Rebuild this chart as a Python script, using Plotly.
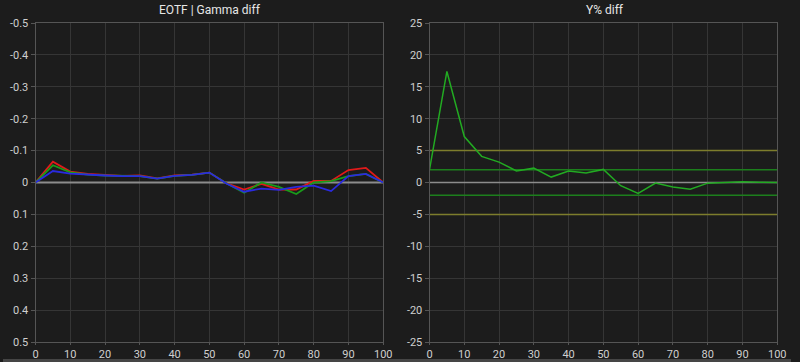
import plotly.graph_objects as go

x_vals = [0, 5, 10, 15, 20, 25, 30, 35, 40, 45, 50, 55, 60, 65, 70, 75, 80, 85, 90, 95, 100]

gamma_red = [0, -0.065, -0.034, -0.027, -0.024, -0.021, -0.022, -0.013, -0.022, -0.025, -0.031, 0.003, 0.022, 0.004, 0.022, 0.022, -0.005, -0.005, -0.039, -0.046, 0]
gamma_green = [0, -0.054, -0.032, -0.025, -0.022, -0.020, -0.020, -0.012, -0.021, -0.024, -0.031, 0.003, 0.032, 0.0, 0.014, 0.036, 0.0, -0.004, -0.020, -0.027, 0]
gamma_blue = [0, -0.036, -0.028, -0.024, -0.022, -0.020, -0.020, -0.012, -0.021, -0.024, -0.031, 0.004, 0.029, 0.019, 0.023, 0.014, 0.010, 0.027, -0.020, -0.027, 0]

y_diff = [2.0, 17.4, 7.2, 4.1, 3.2, 1.8, 2.25, 0.85, 1.8, 1.5, 2.05, -0.5, -1.7, -0.1, -0.7, -1.05, -0.1, 0.0, 0.1, 0.05, 0.0]

x_ticks = [0, 10, 20, 30, 40, 50, 60, 70, 80, 90, 100]
gamma_ticks = [-0.5, -0.4, -0.3, -0.2, -0.1, 0, 0.1, 0.2, 0.3, 0.4, 0.5]
gamma_labels = ["-0.5", "-0.4", "-0.3", "-0.2", "-0.1", "0", "0.1", "0.2", "0.3", "0.4", "0.5"]
y_ticks = [25, 20, 15, 10, 5, 0, -5, -10, -15, -20, -25]
y_labels = ["25", "20", "15", "10", "5", "0", "-5", "-10", "-15", "-20", "-25"]

ref_lines = [(5, "#7d7d2c"), (-5, "#7d7d2c"), (2, "#1c7f1c"), (-2, "#1c7f1c"), (0, "#8c8c8c")]

BG = "#1c1c1c"
GRID = "#353535"
AXIS = "#555555"
TXT = "#cfcfcf"

fig = go.Figure()

# Left chart: zero line
fig.add_trace(go.Scatter(x=[0, 100], y=[0, 0], mode="lines", line=dict(color="#8c8c8c", width=2),
                         xaxis="x", yaxis="y", showlegend=False, hoverinfo="skip"))
for vals, col in [(gamma_red, "#e01a1a"), (gamma_green, "#1a9a1a"), (gamma_blue, "#2a2ae0")]:
    fig.add_trace(go.Scatter(x=x_vals, y=vals, mode="lines", line=dict(color=col, width=1.8),
                             xaxis="x", yaxis="y", showlegend=False))

# Right chart reference lines
for val, col in ref_lines:
    fig.add_trace(go.Scatter(x=[0, 100], y=[val, val], mode="lines", line=dict(color=col, width=1.5),
                             xaxis="x2", yaxis="y2", showlegend=False, hoverinfo="skip"))
fig.add_trace(go.Scatter(x=x_vals, y=y_diff, mode="lines", line=dict(color="#22aa22", width=1.5),
                         xaxis="x2", yaxis="y2", showlegend=False))

font_ticks = dict(family="Roboto, Arial, sans-serif", size=11, color=TXT)
axis_common = dict(showgrid=True, gridcolor=GRID, gridwidth=1, showline=True, linecolor=AXIS,
                   linewidth=1, mirror=True, zeroline=False, ticks="outside",
                   tickcolor=AXIS, tickfont=font_ticks)

H_plot = 362 - 23 - 20

fig.update_layout(
    width=800, height=362,
    margin=dict(l=0, r=0, t=23, b=20),
    paper_bgcolor=BG, plot_bgcolor=BG,
    xaxis=dict(domain=[33 / 800, 386 / 800], range=[0, 100], tickvals=x_ticks, anchor="y",
               ticklen=2, **axis_common),
    yaxis=dict(domain=[0, 1], range=[0.5, -0.5], tickvals=gamma_ticks, ticktext=gamma_labels,
               anchor="x", ticklen=4, **axis_common),
    xaxis2=dict(domain=[433 / 800, 786 / 800], range=[0, 100], tickvals=x_ticks, anchor="y2",
                ticklen=2, **axis_common),
    yaxis2=dict(domain=[0, 1], range=[-25, 25], tickvals=y_ticks, ticktext=y_labels,
                anchor="x2", ticklen=4, **axis_common),
    annotations=[
        dict(text="EOTF | Gamma diff", x=210 / 800, y=(342 - 10) / H_plot, xref="paper", yref="paper",
             showarrow=False, xanchor="center", yanchor="middle",
             font=dict(family="Roboto, Arial, sans-serif", size=12, color="#e6e6e6")),
        dict(text="Y% diff", x=611 / 800, y=(342 - 10) / H_plot, xref="paper", yref="paper",
             showarrow=False, xanchor="center", yanchor="middle",
             font=dict(family="Roboto, Arial, sans-serif", size=12, color="#e6e6e6")),
    ],
    shapes=[
        dict(type="rect", xref="paper", yref="paper", x0=0, x1=1,
             y0=(342 - 362) / H_plot, y1=(342 - 359) / H_plot,
             fillcolor="#454545", line=dict(width=0), layer="below"),
    ],
)

fig.write_html("out.html")
